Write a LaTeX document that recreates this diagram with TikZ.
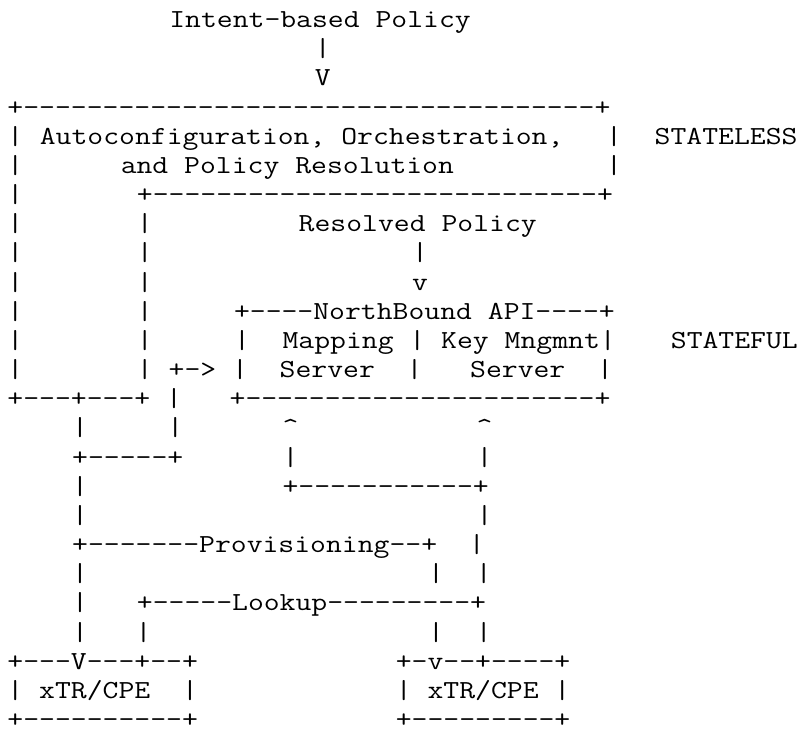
\documentclass[tikz,border=0pt]{standalone}
\usepackage{graphicx}
\newcommand{\asc}[1]{\scalebox{1.185}[1]{#1}}
\tikzset{ascii/.style={anchor=base west, inner sep=0pt, outer sep=0pt, text=black,
  text depth=0pt, font=\ttfamily\fontsize{26pt}{30pt}\selectfont}}
\newcommand{\al}[4]{\node[ascii] (#1) at ({7.5pt+#3*16.18pt}, {-27.5pt-(#2-1)*29.17pt}) {\asc{#4}};}
\begin{document}
\begin{tikzpicture}
\fill[white] (0pt,0pt) rectangle (812pt,-731pt);
\useasboundingbox (0pt,0pt) rectangle (812pt,-731pt);
\al{r1}{1}{10}{Intent-based~Policy}
\al{r2}{2}{19}{|}
\al{r3}{3}{19}{V}
\al{r4}{4}{0}{+------------------------------------+}
\al{r5a}{5}{0}{|}
\al{r5b}{5}{2}{Autoconfiguration,~Orchestration,}
\al{r5c}{5}{37}{|}
\al{r5d}{5}{40}{STATELESS}
\al{r6a}{6}{0}{|}
\al{r6b}{6}{7}{and~Policy~Resolution}
\al{r6c}{6}{37}{|}
\al{r7a}{7}{0}{|}
\al{r7b}{7}{8}{+----------------------------+}
\al{r8a}{8}{0}{|}
\al{r8b}{8}{8}{|}
\al{r8c}{8}{18}{Resolved~Policy}
\al{r9a}{9}{0}{|}
\al{r9b}{9}{8}{|}
\al{r9c}{9}{25}{|}
\al{r10a}{10}{0}{|}
\al{r10b}{10}{8}{|}
\al{r10c}{10}{25}{v}
\al{r11a}{11}{0}{|}
\al{r11b}{11}{8}{|}
\al{r11c}{11}{14}{+----NorthBound~API----+}
\al{r12a}{12}{0}{|}
\al{r12b}{12}{8}{|}
\al{r12c}{12}{14}{|}
\al{r12d}{12}{17}{Mapping~|~Key~Mngmnt|}
\al{r12e}{12}{41}{STATEFUL}
\al{r13a}{13}{0}{|}
\al{r13b}{13}{8}{|~+->~|~~Server~~|~~~Server~~|}
\al{r14a}{14}{0}{+---+---+~|~~~+----------------------+}
\al{r15a}{15}{4}{|~~~~~|}
\al{r15b}{15}{17}{\textasciicircum}
\al{r15c}{15}{29}{\textasciicircum}
\al{r16a}{16}{4}{+-----+}
\al{r16b}{16}{17}{|}
\al{r16c}{16}{29}{|}
\al{r17a}{17}{4}{|}
\al{r17b}{17}{17}{+-----------+}
\al{r18a}{18}{4}{|}
\al{r18b}{18}{29}{|}
\al{r19a}{19}{4}{+-------Provisioning--+~~|}
\al{r20a}{20}{4}{|}
\al{r20b}{20}{26}{|~~|}
\al{r21a}{21}{4}{|}
\al{r21b}{21}{8}{+-----Lookup---------+}
\al{r22a}{22}{4}{|~~~|}
\al{r22b}{22}{26}{|~~|}
\al{r23a}{23}{0}{+---V---+--+}
\al{r23b}{23}{24}{+-v--+----+}
\al{r24a}{24}{0}{|~xTR/CPE~~|}
\al{r24b}{24}{24}{|~xTR/CPE~|}
\al{r25a}{25}{0}{+----------+}
\al{r25b}{25}{24}{+---------+}
\end{tikzpicture}
\end{document}
